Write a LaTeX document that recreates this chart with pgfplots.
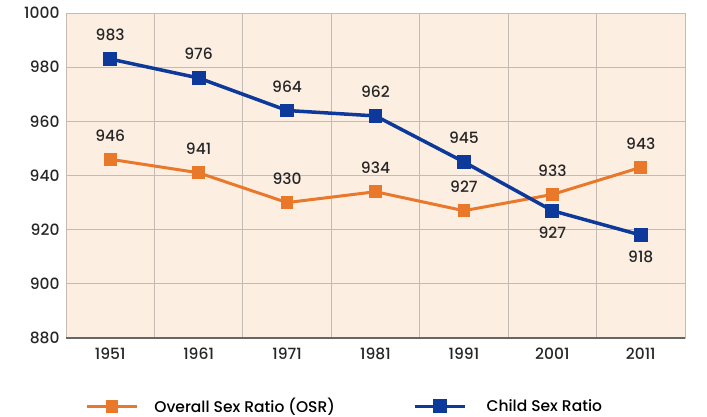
\documentclass[border=0pt]{standalone}
\usepackage{fontspec}
\setmainfont{Poppins}[UprightFont=* Medium]
\usepackage{pgfplots}
\pgfplotsset{compat=1.18}
\definecolor{osr}{HTML}{E9782A}
\definecolor{csr}{HTML}{0D3A9A}
\definecolor{bgpeach}{HTML}{FDEEE2}
\definecolor{gridc}{HTML}{C4BCB4}
\newcommand{\fs}{\fontsize{15.5}{17}\selectfont}
\begin{document}
\begin{tikzpicture}
\useasboundingbox (-66pt,-79pt) rectangle (641pt,338pt);
\begin{axis}[
  scale only axis, width=619pt, height=325pt,
  xmin=-0.5, xmax=6.5, ymin=880, ymax=1000,
  xtick={0,...,6}, xticklabels={1951,1961,1971,1981,1991,2001,2011},
  minor xtick={-0.5,0.5,...,6.5},
  ytick={880,900,...,1000},
  xminorgrids, ymajorgrids,
  grid style={gridc, line width=0.9pt},
  minor grid style={gridc, line width=0.9pt},
  axis line style={gridc, line width=0.9pt},
  major tick length=0pt, minor tick length=0pt,
  axis background/.style={fill=bgpeach},
  /pgf/number format/assume math mode=true,
  yticklabel style={font=\fs, text=black!85, xshift=-3pt},
  xticklabel style={font=\fs, text=black!85, yshift=-6pt},
  y tick label style={/pgf/number format/.cd, 1000 sep={}},
  legend style={at={(0.031,-0.21)}, anchor=west, draw=none, fill=none,
    font=\fs, inner sep=0pt, legend columns=2,
    /tikz/every even column/.append style={column sep=76pt}},
  legend cell align=left,
  legend image code/.code={%
    \draw[#1, mark repeat=2, mark phase=2] plot coordinates {(0pt,0pt) (25pt,0pt) (50pt,0pt)};},
  clip=false,
]
\addplot[osr, line width=3pt, mark=square*, mark size=4.8pt, mark options={solid}]
  coordinates {(0,946) (1,941) (2,930) (3,934) (4,927) (5,933) (6,943)};
\addlegendentry{\hspace{14pt}Overall Sex Ratio (OSR)}
\addplot[csr, line width=3.5pt, mark=square*, mark size=5.2pt, mark options={solid}]
  coordinates {(0,983) (1,976) (2,964) (3,962) (4,945) (5,927) (6,918)};
\addlegendentry{\hspace{18pt}Child Sex Ratio}
% labels
\addplot[draw=none, mark=none, forget plot, nodes near coords,
  every node near coord/.append style={font=\fs, text=black!85, anchor=south, yshift=18pt, inner sep=0pt}]
  coordinates {(0,946) (1,941) (2,930) (3,934) (4,927) (5,933) (6,943)
               (0,983) (1,976) (2,964) (3,962) (4,945)};
\addplot[draw=none, mark=none, forget plot, nodes near coords,
  every node near coord/.append style={font=\fs, text=black!85, anchor=north, yshift=-16pt, inner sep=0pt}]
  coordinates {(5,927) (6,918)};
\draw[line width=2.2pt, black!60] (rel axis cs:0,0) -- (rel axis cs:1,0);
\end{axis}
\end{tikzpicture}
\end{document}
